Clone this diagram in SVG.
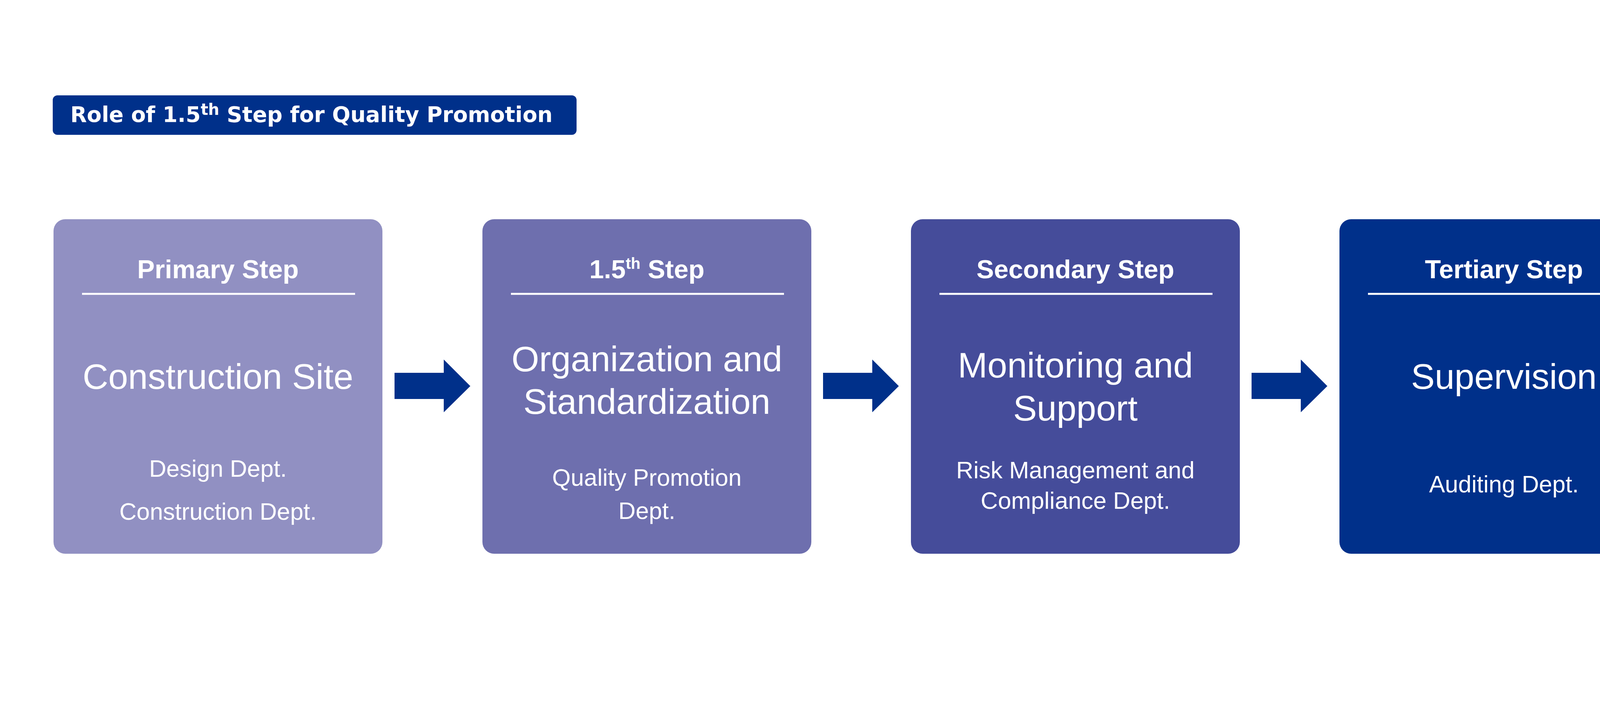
<svg xmlns="http://www.w3.org/2000/svg" width="4400" height="1822" viewBox="0 0 4400 1822">
<style>
.h{font-family:"Liberation Sans",Arial,sans-serif;font-weight:bold;font-size:67px;fill:#fff;text-anchor:middle}
.m{font-family:"Liberation Sans",Arial,sans-serif;font-size:91px;fill:#fff;text-anchor:middle}
.d{font-family:"Liberation Sans",Arial,sans-serif;font-size:61px;fill:#fff;text-anchor:middle}
.sup{font-size:40px}
.ln{stroke:#fff;stroke-width:5}
.ar{fill:#00308A}
</style>
<rect width="4400" height="1822" fill="#fff"/>
<g id="title">
<rect x="135" y="244" width="1341" height="101" rx="12" fill="#00308A"/>
<text x="180" y="312" font-family="DejaVu Sans,Verdana,sans-serif" font-weight="bold" font-size="55" fill="#fff">Role of 1.5<tspan class="sup" dy="-18">th</tspan><tspan dy="18"> Step for Quality Promotion</tspan></text>
</g>
<g id="n1">
<rect x="137" y="561" width="842" height="856" rx="30" fill="#9190C2"/>
<text class="h" x="558" y="712">Primary Step</text>
<line class="ln" x1="210" y1="752" x2="909" y2="752"/>
<text class="m" x="558" y="995">Construction Site</text>
<text class="d" x="558" y="1220">Design Dept.</text>
<text class="d" x="558" y="1330">Construction Dept.</text>
</g>
<g id="n2">
<rect x="1235" y="561" width="842" height="856" rx="30" fill="#6E6FAE"/>
<text class="h" x="1656" y="712">1.5<tspan class="sup" dy="-24">th</tspan><tspan dy="24"> Step</tspan></text>
<line class="ln" x1="1308" y1="752" x2="2007" y2="752"/>
<text class="m" x="1656" y="950">Organization and</text>
<text class="m" x="1656" y="1059">Standardization</text>
<text class="d" x="1656" y="1243">Quality Promotion</text>
<text class="d" x="1656" y="1328">Dept.</text>
</g>
<g id="n3">
<rect x="2332" y="561" width="842" height="856" rx="30" fill="#454C9A"/>
<text class="h" x="2753" y="712">Secondary Step</text>
<line class="ln" x1="2405" y1="752" x2="3104" y2="752"/>
<text class="m" x="2753" y="966">Monitoring and</text>
<text class="m" x="2753" y="1076">Support</text>
<text class="d" x="2753" y="1224">Risk Management and</text>
<text class="d" x="2753" y="1302">Compliance Dept.</text>
</g>
<g id="n4">
<rect x="3429" y="561" width="842" height="856" rx="30" fill="#00308A"/>
<text class="h" x="3850" y="712">Tertiary Step</text>
<line class="ln" x1="3502" y1="752" x2="4201" y2="752"/>
<text class="m" x="3850" y="995">Supervision</text>
<text class="d" x="3850" y="1260">Auditing Dept.</text>
</g>
<g id="connectors">
<polygon class="ar" points="1010,954 1136,954 1136,920 1204,988 1136,1055 1136,1021 1010,1021"/>
<polygon class="ar" points="2107,954 2233,954 2233,920 2301,988 2233,1055 2233,1021 2107,1021"/>
<polygon class="ar" points="3204,954 3330,954 3330,920 3398,988 3330,1055 3330,1021 3204,1021"/>
</g>
</svg>
